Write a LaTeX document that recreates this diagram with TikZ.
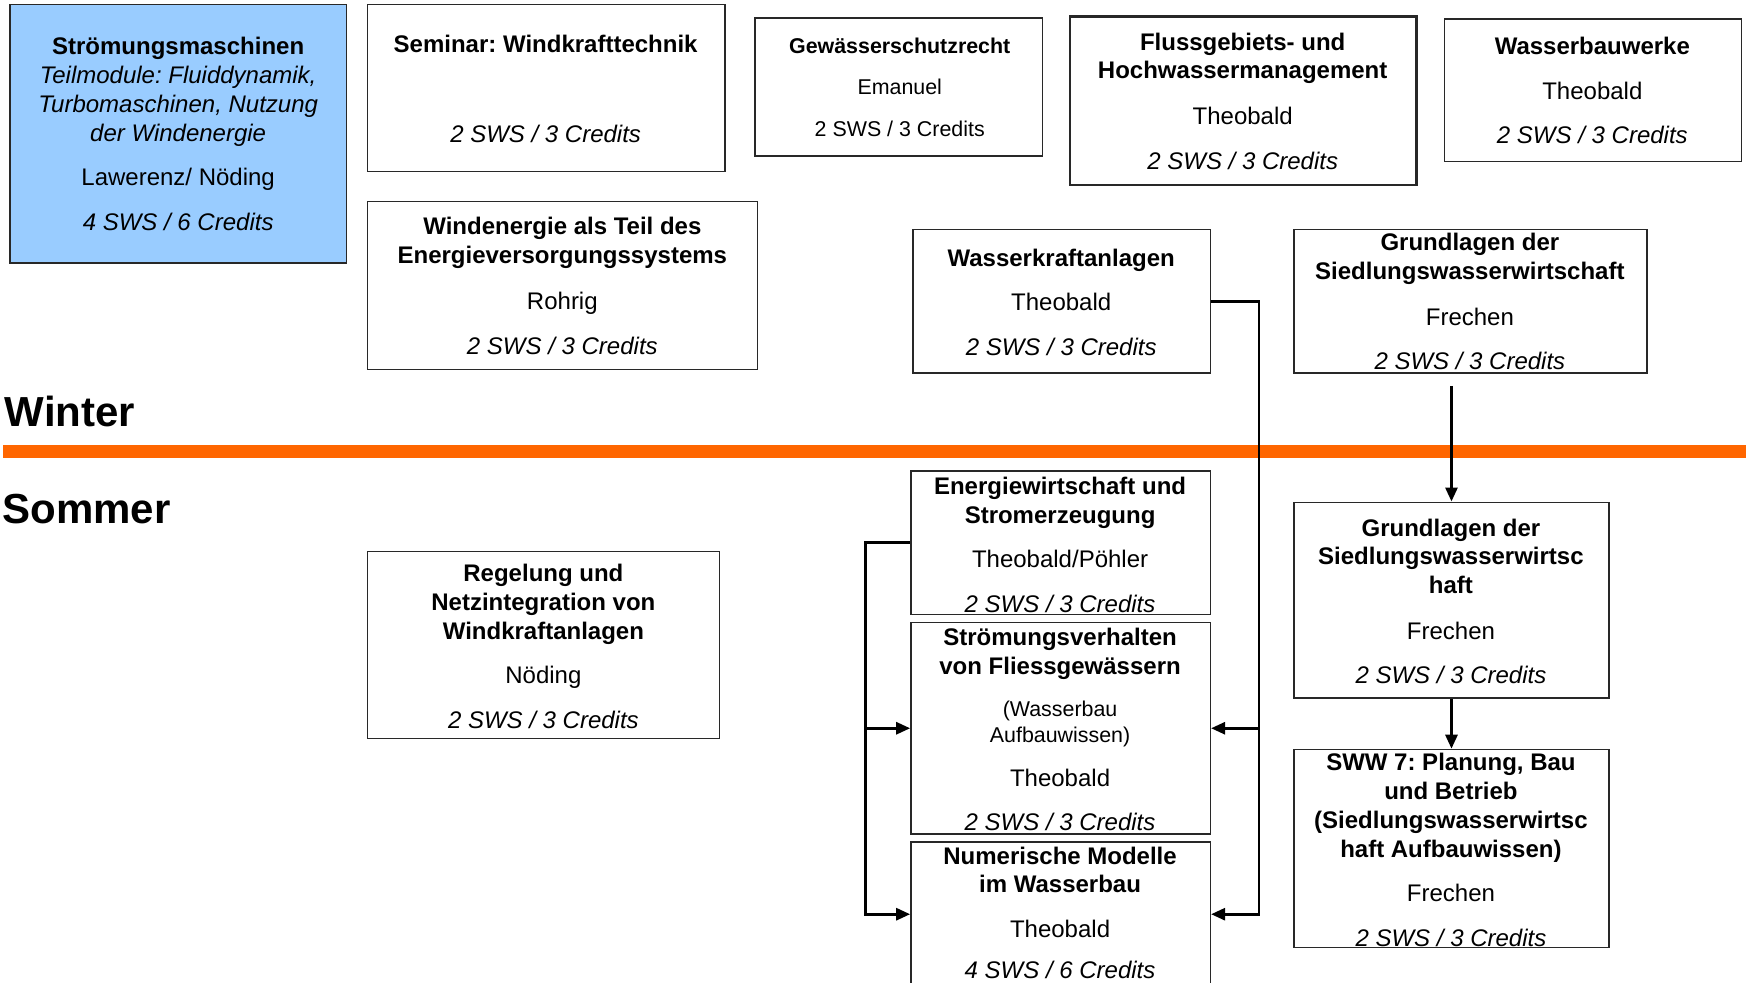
\documentclass[tikz,border=0pt]{standalone}
\usepackage{fontspec}
\setmainfont{Liberation Sans}
\frenchspacing
\usetikzlibrary{fit,arrows.meta}
\definecolor{boxblue}{RGB}{153,204,255}
\definecolor{barorange}{RGB}{255,102,0}
\definecolor{edge}{RGB}{40,40,40}
\newcommand\Tline[5]{\node[#4] (#1) at (#2,#3) {#5};}
\newcommand\Mbox[6]{\node[#6, fit={(#2,#3) (#4,#5)}] (#1) {};}
\tikzset{
  modbox/.style={draw=edge, line width=0.7pt, inner sep=0pt},
  lnb/.style={anchor=base, inner sep=0pt},
  tb/.style={lnb, yshift=-4.4pt, font=\fontsize{12}{14}\selectfont\bfseries},
  tr/.style={lnb, yshift=-4.4pt, font=\fontsize{12}{14}\selectfont},
  ti/.style={lnb, yshift=-4.4pt, font=\fontsize{12}{14}\selectfont\itshape},
  ts/.style={lnb, yshift=-3.9pt, font=\fontsize{10.7}{13}\selectfont},
  tsb/.style={lnb, yshift=-3.9pt, font=\fontsize{10.7}{13}\selectfont\bfseries},
  season/.style={anchor=base west, inner sep=0pt, font=\fontsize{21}{25}\selectfont\bfseries},
  conn/.style={line width=1.4pt, draw=black},
  arr/.style={-{Triangle[length=7pt,width=6pt]}}
}
\begin{document}
\begin{tikzpicture}[x=0.5568pt,y=-0.5568pt]
\useasboundingbox (0,0) rectangle (1568,882);
% boxes
\Mbox{sm}{9}{4}{311}{236}{modbox,fill=boxblue}
\Mbox{sem}{330}{4}{651}{154}{modbox}
\Mbox{gsr}{678}{16}{936}{140}{modbox}
\Mbox{fhm}{961}{15}{1272}{166}{modbox,line width=1.3pt}
\Mbox{wbw}{1297}{17}{1564}{145}{modbox}
\Mbox{wes}{330}{181}{680}{332}{modbox}
\Mbox{wka}{820}{206}{1087}{335}{modbox}
\Mbox{gsw}{1162}{206}{1479}{335}{modbox}
\Mbox{ews}{818}{423}{1087}{552}{modbox}
\Mbox{sfg}{818}{559}{1087}{749}{modbox}
\Mbox{nmw}{818}{756}{1087}{886}{modbox}
\Mbox{rnw}{330}{495}{646}{663}{modbox}
\Mbox{gss}{1162}{451}{1445}{627}{modbox}
\Mbox{sww}{1162}{673}{1445}{851}{modbox}
% separator
\fill[barorange] (3,400) rectangle (1568,411);
\node[season] (winter) at (4,383) {Winter};
\node[season] (sommer) at (2,470) {Sommer};
% texts
\Tline{sm1}{160}{41}{tb}{Strömungsmaschinen}
\Tline{sm2}{160}{67}{ti}{Teilmodule: Fluiddynamik,}
\Tline{sm3}{160}{93}{ti}{Turbomaschinen, Nutzung}
\Tline{sm4}{160}{119}{ti}{der Windenergie}
\Tline{sm5}{160}{159}{tr}{Lawerenz/ Nöding}
\Tline{sm6}{160}{199}{ti}{4 SWS / 6 Credits}
\Tline{sem1}{490}{39}{tb}{Seminar: Windkrafttechnik}
\Tline{sem2}{490}{120}{ti}{2 SWS / 3 Credits}
\Tline{gsr1}{808}{41}{tsb}{Gewässerschutzrecht}
\Tline{gsr2}{808}{78}{ts}{Emanuel}
\Tline{gsr3}{808}{116}{ts}{2 SWS / 3 Credits}
\Tline{fhm1}{1116}{37}{tb}{Flussgebiets- und}
\Tline{fhm2}{1116}{63}{tb}{Hochwassermanagement}
\Tline{fhm3}{1116}{104}{tr}{Theobald}
\Tline{fhm4}{1116}{144}{ti}{2 SWS / 3 Credits}
\Tline{wbw1}{1430}{41}{tb}{Wasserbauwerke}
\Tline{wbw2}{1430}{81}{tr}{Theobald}
\Tline{wbw3}{1430}{121}{ti}{2 SWS / 3 Credits}
\Tline{wes1}{505}{203}{tb}{Windenergie als Teil des}
\Tline{wes2}{505}{229}{tb}{Energieversorgungssystems}
\Tline{wes3}{505}{270}{tr}{Rohrig}
\Tline{wes4}{505}{310}{ti}{2 SWS / 3 Credits}
\Tline{wka1}{953}{231}{tb}{Wasserkraftanlagen}
\Tline{wka2}{953}{271}{tr}{Theobald}
\Tline{wka3}{953}{311}{ti}{2 SWS / 3 Credits}
\Tline{gsw1}{1320}{217}{tb}{Grundlagen der}
\Tline{gsw2}{1320}{243}{tb}{Siedlungswasserwirtschaft}
\Tline{gsw3}{1320}{284}{tr}{Frechen}
\Tline{gsw4}{1320}{324}{ti}{2 SWS / 3 Credits}
\Tline{ews1}{952}{436}{tb}{Energiewirtschaft und}
\Tline{ews2}{952}{462}{tb}{Stromerzeugung}
\Tline{ews3}{952}{502}{tr}{Theobald/Pöhler}
\Tline{ews4}{952}{542}{ti}{2 SWS / 3 Credits}
\Tline{sfg1}{952}{572}{tb}{Strömungsverhalten}
\Tline{sfg2}{952}{598}{tb}{von Fliessgewässern}
\Tline{sfg3}{952}{636}{ts}{(Wasserbau}
\Tline{sfg4}{952}{660}{ts}{Aufbauwissen)}
\Tline{sfg5}{952}{698}{tr}{Theobald}
\Tline{sfg6}{952}{738}{ti}{2 SWS / 3 Credits}
\Tline{nmw1}{952}{768}{tb}{Numerische Modelle}
\Tline{nmw2}{952}{794}{tb}{im Wasserbau}
\Tline{nmw3}{952}{834}{tr}{Theobald}
\Tline{nmw4}{952}{871}{ti}{4 SWS / 6 Credits}
\Tline{rnw1}{488}{514}{tb}{Regelung und}
\Tline{rnw2}{488}{540}{tb}{Netzintegration von}
\Tline{rnw3}{488}{566}{tb}{Windkraftanlagen}
\Tline{rnw4}{488}{606}{tr}{Nöding}
\Tline{rnw5}{488}{646}{ti}{2 SWS / 3 Credits}
\Tline{gss1}{1303}{474}{tb}{Grundlagen der}
\Tline{gss2}{1303}{499}{tb}{Siedlungswasserwirtsc}
\Tline{gss3}{1303}{525}{tb}{haft}
\Tline{gss4}{1303}{566}{tr}{Frechen}
\Tline{gss5}{1303}{606}{ti}{2 SWS / 3 Credits}
\Tline{sww1}{1303}{684}{tb}{SWW 7: Planung, Bau}
\Tline{sww2}{1303}{710}{tb}{und Betrieb}
\Tline{sww3}{1303}{736}{tb}{(Siedlungswasserwirtsc}
\Tline{sww4}{1303}{762}{tb}{haft Aufbauwissen)}
\Tline{sww5}{1303}{802}{tr}{Frechen}
\Tline{sww6}{1303}{842}{ti}{2 SWS / 3 Credits}
% connectors
\path (wka.east) ++(43,0) coordinate (wkj);
\draw[conn,arr] (wka.east) -- (wkj) |- (nmw.east);
\draw[conn,arr] (wkj |- sfg.east) -- (sfg.east);
\path (ews.west) ++(-40,0) coordinate (ewj);
\draw[conn,arr] (ews.west) -- (ewj) |- (nmw.west);
\draw[conn,arr] (ewj |- sfg.west) -- (sfg.west);
\path (gss.north |- gsw.south) ++(0,11) coordinate (gsout);
\draw[conn,arr] (gsout) -- (gss.north);
\draw[conn,arr] (gss.south) -- (sww.north);
\end{tikzpicture}
\end{document}
